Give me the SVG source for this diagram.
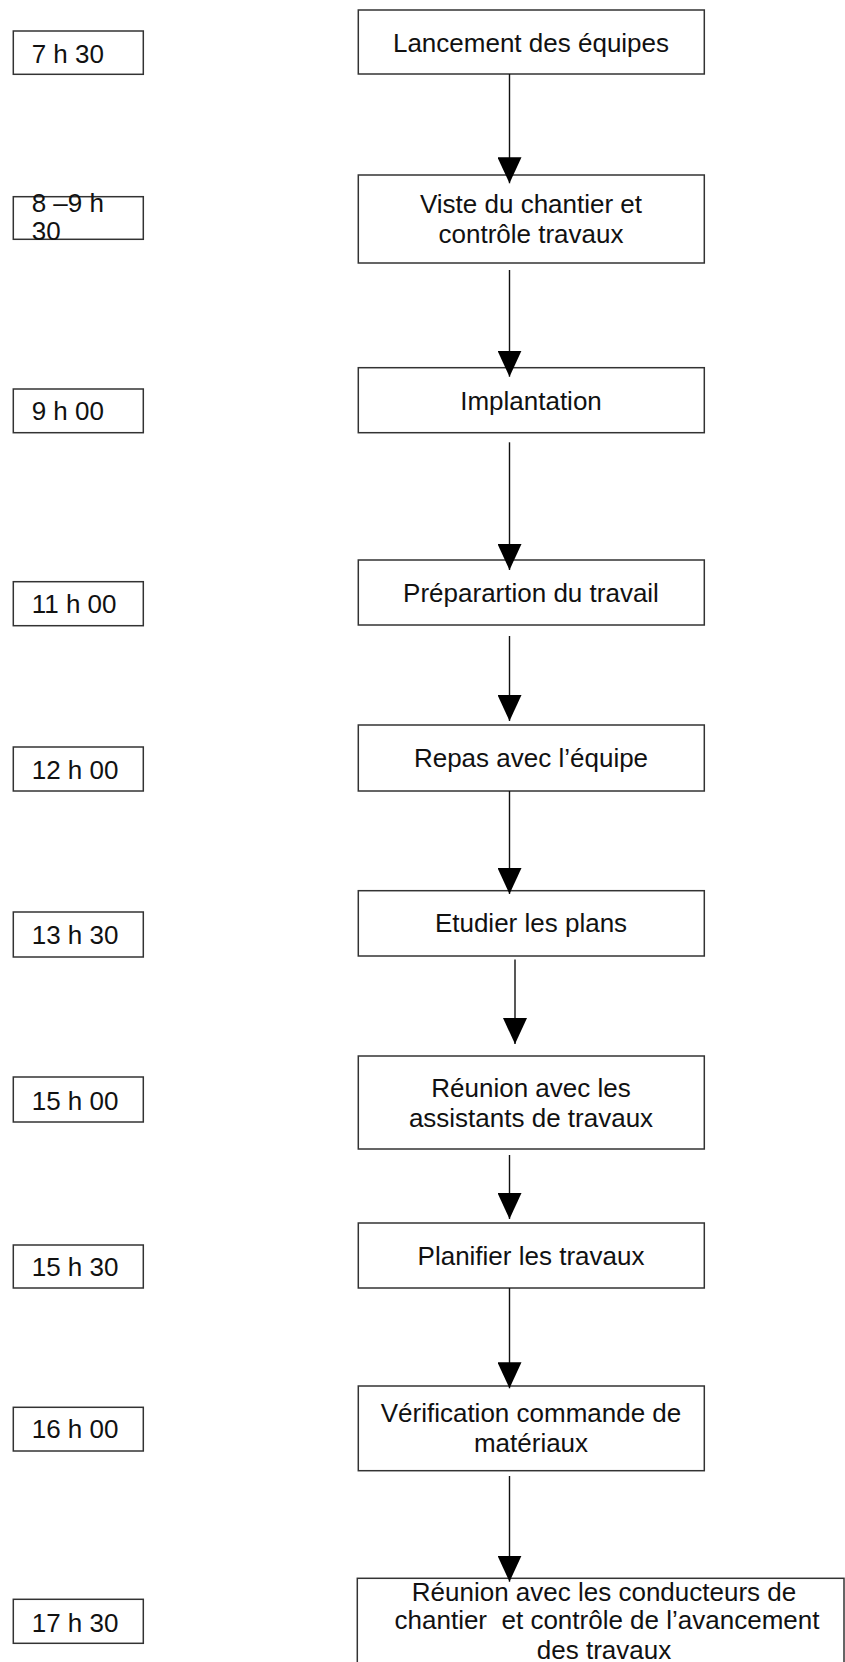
<svg xmlns="http://www.w3.org/2000/svg" width="845" height="1662" viewBox="0 0 845 1662">
<style>
  .box { fill: #ffffff; stroke: #333333; stroke-width: 1.5; }
  .t { font-family: "Liberation Sans", Arial, sans-serif; font-size: 26px; fill: #111111; }
  .c { text-anchor: middle; }
  .conn { stroke: #111111; stroke-width: 1.4; fill: none; marker-end: url(#arr); }
</style>
<defs>
  <marker id="arr" markerUnits="userSpaceOnUse" markerWidth="26" markerHeight="24" refX="26" refY="12" orient="auto" viewBox="0 0 26 24">
    <path d="M0,0 L26,12 L0,24 Z" fill="#000000"/>
  </marker>
</defs>
<rect width="845" height="1662" fill="#ffffff"/>

<g id="n1"><rect class="box" x="358.3" y="10" width="346" height="64"/><text class="t c" x="531" y="51.7">Lancement des équipes</text></g>
<g id="t1"><rect class="box" x="13.3" y="31" width="130" height="43.3"/><text class="t" x="31.7" y="62.7">7 h 30</text></g>

<g id="n2"><rect class="box" x="358.3" y="175" width="346" height="88"/><text class="t c" x="531" y="213">Viste du chantier et</text><text class="t c" x="531" y="243">contrôle travaux</text></g>
<g id="t2"><rect class="box" x="13.3" y="196.7" width="130" height="42.6"/><text class="t" x="31.7" y="212.3">8 –9 h</text><text class="t" x="31.7" y="240">30</text></g>

<g id="n3"><rect class="box" x="358.3" y="367.7" width="346" height="65"/><text class="t c" x="531" y="410">Implantation</text></g>
<g id="t3"><rect class="box" x="13.3" y="389" width="130" height="43.7"/><text class="t" x="31.7" y="420">9 h 00</text></g>

<g id="n4"><rect class="box" x="358.3" y="560" width="346" height="65"/><text class="t c" x="531" y="601.7">Préparartion du travail</text></g>
<g id="t4"><rect class="box" x="13.3" y="581.7" width="130" height="44"/><text class="t" x="31.7" y="612.7">11 h 00</text></g>

<g id="n5"><rect class="box" x="358.3" y="725" width="346" height="66"/><text class="t c" x="531" y="767">Repas avec l’équipe</text></g>
<g id="t5"><rect class="box" x="13.3" y="747" width="130" height="44"/><text class="t" x="31.7" y="779">12 h 00</text></g>

<g id="n6"><rect class="box" x="358.3" y="890.7" width="346" height="65.3"/><text class="t c" x="531" y="931.7">Etudier les plans</text></g>
<g id="t6"><rect class="box" x="13.3" y="912" width="130" height="45"/><text class="t" x="31.7" y="944">13 h 30</text></g>

<g id="n7"><rect class="box" x="358.3" y="1056" width="346" height="93"/><text class="t c" x="531" y="1097">Réunion avec les</text><text class="t c" x="531" y="1127">assistants de travaux</text></g>
<g id="t7"><rect class="box" x="13.3" y="1077" width="130" height="45"/><text class="t" x="31.7" y="1110">15 h 00</text></g>

<g id="n8"><rect class="box" x="358.3" y="1223" width="346" height="65"/><text class="t c" x="531" y="1264.6">Planifier les travaux</text></g>
<g id="t8"><rect class="box" x="13.3" y="1245" width="130" height="43"/><text class="t" x="31.7" y="1276">15 h 30</text></g>

<g id="n9"><rect class="box" x="358.3" y="1386" width="346" height="84.7"/><text class="t c" x="531" y="1421.7">Vérification commande de</text><text class="t c" x="531" y="1452.3">matériaux</text></g>
<g id="t9"><rect class="box" x="13.3" y="1407.3" width="130" height="43.7"/><text class="t" x="31.7" y="1438.3">16 h 00</text></g>

<g id="n10"><rect class="box" x="357.3" y="1578.3" width="486.7" height="100"/><text class="t c" x="604" y="1601">Réunion avec les conducteurs de</text><text class="t c" x="607" y="1629.3" style="white-space:pre">chantier  et contrôle de l’avancement</text><text class="t c" x="604" y="1658.7">des travaux</text></g>
<g id="t10"><rect class="box" x="13.3" y="1599.3" width="130" height="44"/><text class="t" x="31.7" y="1631.7">17 h 30</text></g>

<g id="connectors">
  <line class="conn" x1="509.5" y1="74" x2="509.5" y2="183.3"/>
  <line class="conn" x1="509.5" y1="270" x2="509.5" y2="376.7"/>
  <line class="conn" x1="509.5" y1="442.3" x2="509.5" y2="570"/>
  <line class="conn" x1="509.5" y1="636" x2="509.5" y2="721"/>
  <line class="conn" x1="509.5" y1="791" x2="509.5" y2="894"/>
  <line class="conn" x1="515" y1="959.6" x2="515" y2="1044"/>
  <line class="conn" x1="509.5" y1="1155" x2="509.5" y2="1219"/>
  <line class="conn" x1="509.5" y1="1288" x2="509.5" y2="1388.3"/>
  <line class="conn" x1="509.5" y1="1476" x2="509.5" y2="1581.7"/>
</g>
</svg>
